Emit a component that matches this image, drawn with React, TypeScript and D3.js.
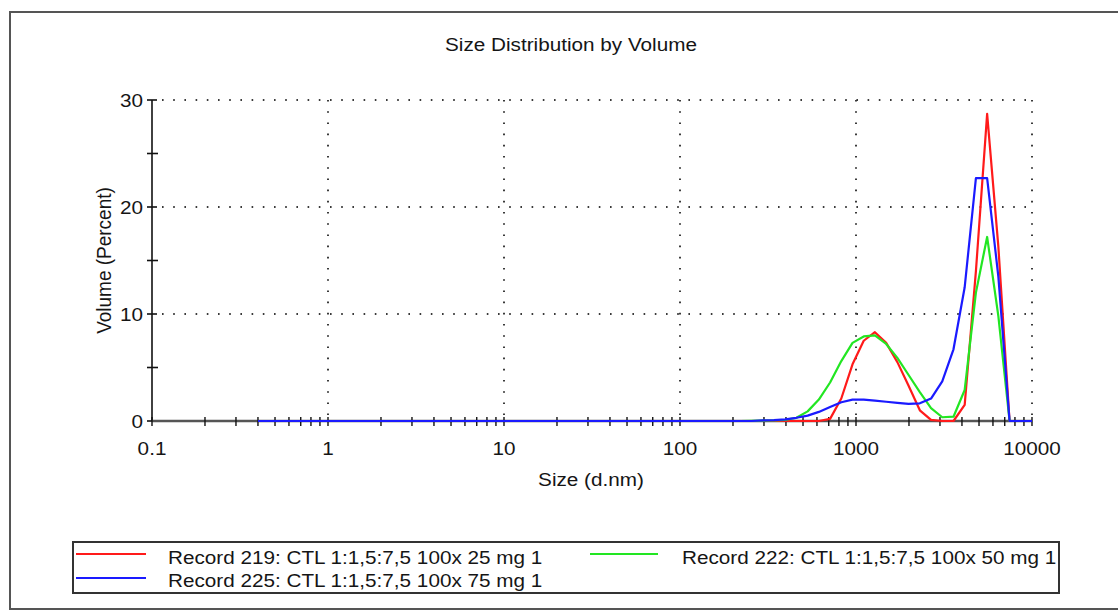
import React from "react";
import * as d3 from "d3";

const sizes = [
  0.4, 0.4632, 0.5365, 0.6213, 0.7195, 0.8332, 0.9649, 1.117, 1.294, 1.499,
  1.736, 2.01, 2.328, 2.696, 3.122, 3.615, 4.187, 4.849, 5.615, 6.503,
  7.531, 8.721, 10.1, 11.7, 13.54, 15.69, 18.17, 21.04, 24.36, 28.21,
  32.67, 37.84, 43.82, 50.75, 58.77, 68.06, 78.82, 91.28, 105.7, 122.4,
  141.8, 164.2, 190.1, 220.2, 255, 295.3, 342, 396.1, 458.7, 531.2,
  615.1, 712.4, 825, 955.4, 1106, 1281, 1484, 1718, 1990, 2305,
  2669, 3091, 3580, 4145, 4801, 5560, 6439, 7456, 8635, 10000,
];

const record219 = [
  0, 0, 0, 0, 0, 0, 0, 0, 0, 0,
  0, 0, 0, 0, 0, 0, 0, 0, 0, 0,
  0, 0, 0, 0, 0, 0, 0, 0, 0, 0,
  0, 0, 0, 0, 0, 0, 0, 0, 0, 0,
  0, 0, 0, 0, 0, 0, 0, 0, 0, 0,
  0, 0.2, 2.1, 5.3, 7.5, 8.3, 7.3, 5.5, 3.3, 1.0,
  0.1, 0, 0, 1.5, 14, 28.7, 16.3, 0, 0, 0,
];

const record222 = [
  0, 0, 0, 0, 0, 0, 0, 0, 0, 0,
  0, 0, 0, 0, 0, 0, 0, 0, 0, 0,
  0, 0, 0, 0, 0, 0, 0, 0, 0, 0,
  0, 0, 0, 0, 0, 0, 0, 0, 0, 0,
  0, 0, 0, 0, 0.02, 0.03, 0.05, 0.1, 0.3, 0.9,
  2.0, 3.6, 5.6, 7.3, 7.9, 8.0, 7.2, 5.9, 4.3, 2.7,
  1.2, 0.35, 0.4, 2.9, 12, 17.2, 9.8, 0, 0, 0,
];

const record225 = [
  0, 0, 0, 0, 0, 0, 0, 0, 0, 0,
  0, 0, 0, 0, 0, 0, 0, 0, 0, 0,
  0, 0, 0, 0, 0, 0, 0, 0, 0, 0,
  0, 0, 0, 0, 0, 0, 0, 0, 0, 0,
  0, 0, 0, 0, 0, 0.05, 0.08, 0.15, 0.3, 0.5,
  0.85, 1.3, 1.75, 2.0, 2.0, 1.9, 1.8, 1.7, 1.6, 1.65,
  2.1, 3.7, 6.7, 12.5, 22.7, 22.7, 13.5, 0, 0, 0,
];

const seriesNames = [
  "Record 219: CTL 1:1,5:7,5 100x 25 mg 1",
  "Record 222: CTL 1:1,5:7,5 100x 50 mg 1",
  "Record 225: CTL 1:1,5:7,5 100x 75 mg 1",
];
const seriesColors = ["#ff1a1a", "#22e622", "#1a1aff"];
const seriesValues = [record219, record222, record225];

const xTickValues = [0.1, 1, 10, 100, 1000, 10000];
const xTickLabels = ["0.1", "1", "10", "100", "1000", "10000"];
const yTickValues = [0, 10, 20, 30];
const yMinorTicks = [5, 15, 25];

const SX = 1.09;
const FONT = "'Liberation Sans', Arial, Helvetica, sans-serif";

function Txt({ x, y, anchor = "start", size = 19, rotate = 0, children }: any) {
  return (
    <text
      transform={`translate(${x},${y}) scale(${SX},1)${rotate ? ` rotate(${rotate})` : ""}`}
      textAnchor={anchor}
      fontFamily={FONT}
      fontSize={size}
      fill="#151515"
    >
      {children}
    </text>
  );
}

export default function App() {
  const W = 1118;
  const H = 613;
  const x = d3.scaleLog().domain([0.1, 10000]).range([152, 1032]);
  const y = d3.scaleLinear().domain([0, 30]).range([421, 100]);

  const minorX: number[] = [];
  for (let e = -1; e < 4; e++) {
    for (let m = 1; m <= 9; m++) minorX.push(m * Math.pow(10, e));
  }
  minorX.push(10000);

  const line = d3
    .line<number>()
    .x((_, i) => x(sizes[i]))
    .y((d) => y(d))
    .curve(d3.curveLinear);

  const gridStyle = {
    stroke: "#3a3a3a",
    strokeWidth: 2,
    strokeDasharray: "1.6 9.6",
  };

  const order = [0, 1, 2];

  return (
    <svg
      width={W}
      height={H}
      style={{ position: "absolute", left: 0, top: 0, background: "#fff" }}
    >
      <rect x={0} y={0} width={W} height={H} fill="#fff" />
      {/* outer frame */}
      <rect x={10} y={12} width={1120} height={597} fill="none" stroke="#555" strokeWidth={2} />

      <Txt x={571} y={51} anchor="middle">Size Distribution by Volume</Txt>

      {/* grid */}
      {yTickValues.filter((v) => v > 0).map((v) => (
        <line key={"gy" + v} x1={x(0.1) + 10} x2={x(10000)} y1={y(v)} y2={y(v)} style={gridStyle} />
      ))}
      {xTickValues.filter((v) => v > 0.1).map((v) => (
        <line key={"gx" + v} x1={x(v)} x2={x(v)} y1={y(30)} y2={y(0) - 6} style={gridStyle} />
      ))}

      {/* y axis */}
      <line x1={x(0.1)} x2={x(0.1)} y1={y(30)} y2={y(0)} stroke="#111" strokeWidth={1.6} />
      {yTickValues.map((v) => (
        <g key={"yt" + v}>
          <line x1={x(0.1) - 5} x2={x(0.1) + 5} y1={y(v)} y2={y(v)} stroke="#111" strokeWidth={1.6} />
          <Txt x={143} y={y(v) + 7} anchor="end">{String(v)}</Txt>
        </g>
      ))}
      {yMinorTicks.map((v) => (
        <line key={"ym" + v} x1={x(0.1) - 5} x2={x(0.1) + 6} y1={y(v)} y2={y(v)} stroke="#111" strokeWidth={1.6} />
      ))}
      <Txt x={111} y={(y(0) + y(30)) / 2} anchor="middle" rotate={-90}>Volume (Percent)</Txt>

      {/* x axis */}
      <line x1={x(0.1)} x2={x(10000)} y1={y(0)} y2={y(0)} stroke="#555" strokeWidth={2.6} />
      {minorX.map((v, i) => (
        <line key={"xm" + i} x1={x(v)} x2={x(v)} y1={y(0) - 4} y2={y(0) + 5} stroke="#111" strokeWidth={1.4} />
      ))}
      {xTickValues.map((v, i) => (
        <Txt key={"xl" + v} x={x(v)} y={455} anchor="middle">{xTickLabels[i]}</Txt>
      ))}
      <Txt x={591} y={486} anchor="middle">Size (d.nm)</Txt>

      {/* series */}
      {order.map((k) => (
        <path
          key={"s" + k}
          d={line(seriesValues[k]) || ""}
          fill="none"
          stroke={seriesColors[k]}
          strokeWidth={2.2}
          strokeLinejoin="round"
        />
      ))}

      {/* legend */}
      <rect x={73} y={542} width={986} height={51} fill="#fff" stroke="#333" strokeWidth={2} />
      <line x1={76} x2={146} y1={554} y2={554} stroke={seriesColors[0]} strokeWidth={2} />
      <Txt x={168} y={564}>{seriesNames[0]}</Txt>
      <line x1={590} x2={658} y1={554} y2={554} stroke={seriesColors[1]} strokeWidth={2} />
      <Txt x={682} y={564}>{seriesNames[1]}</Txt>
      <line x1={76} x2={146} y1={578} y2={578} stroke={seriesColors[2]} strokeWidth={2} />
      <Txt x={168} y={587}>{seriesNames[2]}</Txt>
    </svg>
  );
}
